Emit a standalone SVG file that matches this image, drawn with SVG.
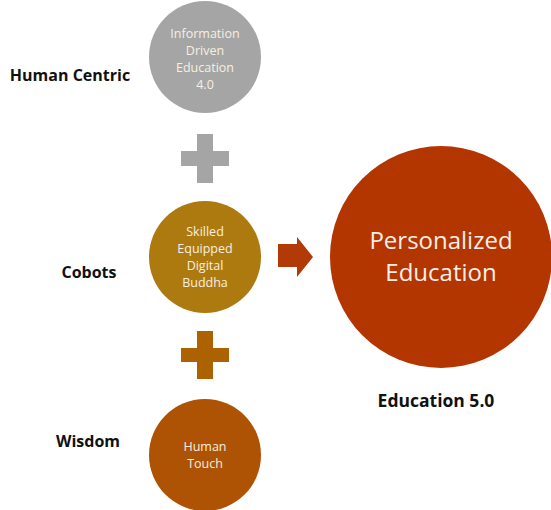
<svg xmlns="http://www.w3.org/2000/svg" width="551" height="510" viewBox="0 0 551 510">
<style>
.ct{font-family:"Open Sans",Lato,"Liberation Sans",sans-serif;font-size:12.5px;fill:#f7efe2;text-anchor:middle}
.lb{font-family:"Open Sans",Lato,"Liberation Sans",sans-serif;font-size:16px;font-weight:bold;fill:#111;text-anchor:middle}
.big{font-family:"Open Sans",Lato,"Liberation Sans",sans-serif;font-size:24px;fill:#fbeee6;text-anchor:middle}
</style>
<rect width="551" height="510" fill="#ffffff"/>
<g id="node-info">
<circle cx="205" cy="57" r="56" fill="#a5a5a5"/>
<text class="ct" x="205" y="38">Information</text>
<text class="ct" x="205" y="55">Driven</text>
<text class="ct" x="205" y="72">Education</text>
<text class="ct" x="205" y="89">4.0</text>
</g>
<g id="node-skilled">
<circle cx="205" cy="257" r="56" fill="#ad7a10"/>
<text class="ct" x="205" y="236">Skilled</text>
<text class="ct" x="205" y="253">Equipped</text>
<text class="ct" x="205" y="270">Digital</text>
<text class="ct" x="205" y="287">Buddha</text>
</g>
<g id="node-human">
<circle cx="205" cy="455" r="56" fill="#ae5303"/>
<text class="ct" x="205" y="451">Human</text>
<text class="ct" x="205" y="468">Touch</text>
</g>
<g id="node-personal">
<circle cx="441" cy="257" r="111" fill="#b33500"/>
<text class="big" x="441" y="249">Personalized</text>
<text class="big" x="441" y="281">Education</text>
</g>
<g id="connectors">
<path d="M197 134h16v17h16v15h-16v17h-16v-17h-16v-15h16z" fill="#a5a5a5"/>
<path d="M197 331h16v17h16v14h-16v17h-16v-17h-16v-14h16z" fill="#ad6200"/>
<path d="M278 244h19v-7l16 20l-16 20v-10h-19z" fill="#b23a06"/>
</g>
<g id="labels">
<text class="lb" x="70" y="81">Human Centric</text>
<text class="lb" x="89" y="278">Cobots</text>
<text class="lb" x="88" y="447">Wisdom</text>
<text class="lb" x="436" y="407" style="font-size:17.5px">Education 5.0</text>
</g>
</svg>
